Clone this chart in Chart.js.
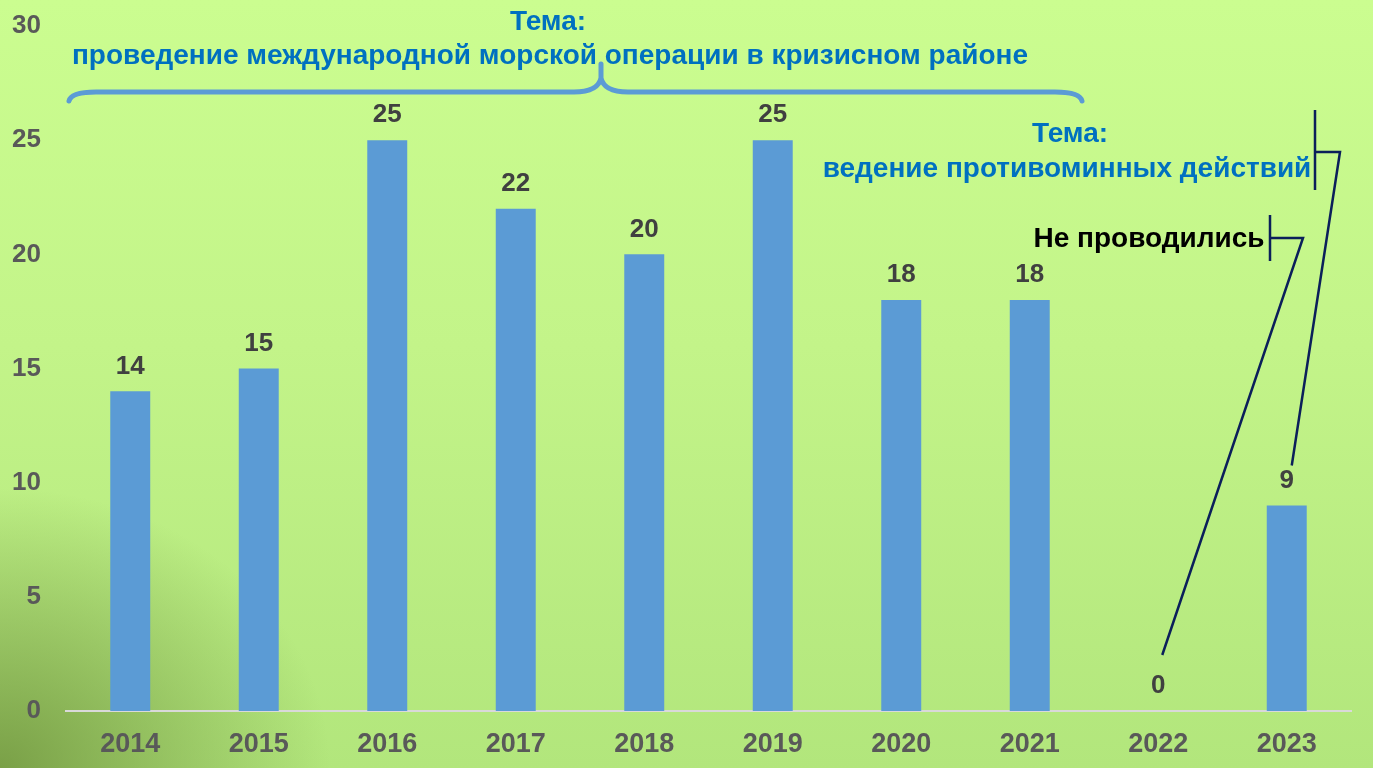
<!DOCTYPE html>
<html lang="ru">
<head>
  <meta charset="UTF-8">
  <title>Учения по годам</title>
  <style>
    html, body {
      margin: 0;
      padding: 0;
      width: 1373px;
      height: 768px;
      overflow: hidden;
    }
    body {
      background:
        radial-gradient(ellipse 330px 280px at 0% 100%, rgba(112, 148, 62, 0.85) 0%, rgba(112, 148, 62, 0) 100%),
        linear-gradient(to bottom, #cbfd90 0%, #c3f489 45%, #b2e67c 100%);
    }
    canvas {
      display: block;
    }
  </style>
</head>
<body>
  <canvas id="chart" width="1373" height="768"></canvas>
  <script src="https://cdn.jsdelivr.net/npm/chart.js"></script>
  <script>
    // Data
    const years = ["2014", "2015", "2016", "2017", "2018", "2019", "2020", "2021", "2022", "2023"];
    const counts = [14, 15, 25, 22, 20, 25, 18, 18, 0, 9];
    const yTicks = [0, 5, 10, 15, 20, 25, 30];

    const FONT = "'Liberation Sans', Arial, sans-serif";
    const BLUE = "#0070c0";
    const NAVY = "#0b1f5a";

    // Value labels above bars
    const valueLabels = {
      id: "valueLabels",
      afterDatasetsDraw(chart) {
        const ctx = chart.ctx;
        const meta = chart.getDatasetMeta(0);
        ctx.save();
        ctx.font = "bold 26px " + FONT;
        ctx.fillStyle = "#404040";
        ctx.textAlign = "center";
        ctx.textBaseline = "middle";
        meta.data.forEach((bar, i) => {
          ctx.fillText(String(counts[i]), bar.x, bar.y - 25);
        });
        ctx.restore();
      }
    };

    // Braces, captions and leader lines
    const notes = {
      id: "notes",
      afterDraw(chart) {
        const ctx = chart.ctx;
        const x = chart.scales.x;
        const y = chart.scales.y;
        ctx.save();

        // top brace
        ctx.strokeStyle = "#5b9bd5";
        ctx.lineWidth = 5;
        ctx.lineCap = "round";
        ctx.beginPath();
        ctx.moveTo(69, 101);
        ctx.quadraticCurveTo(71, 92, 96, 92);
        ctx.lineTo(574, 92);
        ctx.quadraticCurveTo(598, 92, 601, 78);
        ctx.lineTo(601, 64);
        ctx.moveTo(601, 78);
        ctx.quadraticCurveTo(604, 92, 628, 92);
        ctx.lineTo(1055, 92);
        ctx.quadraticCurveTo(1080, 92, 1082, 101);
        ctx.stroke();

        ctx.textAlign = "center";
        ctx.textBaseline = "middle";
        ctx.font = "bold 28px " + FONT;
        ctx.fillStyle = BLUE;
        ctx.fillText("Тема:", 548, 22);
        ctx.fillText("проведение международной морской операции в кризисном районе", 550, 56);
        ctx.fillText("Тема:", 1070, 134);
        ctx.fillText("ведение противоминных действий", 1067, 169);

        ctx.fillStyle = "#000000";
        ctx.fillText("Не проводились", 1149, 239);

        // leader lines to the 2023 and 2022 labels
        ctx.strokeStyle = NAVY;
        ctx.lineWidth = 2.5;
        ctx.lineCap = "butt";
        ctx.beginPath();
        ctx.moveTo(1315, 110);
        ctx.lineTo(1315, 190);
        ctx.moveTo(1315, 152);
        ctx.lineTo(1340, 152);
        ctx.lineTo(x.getPixelForValue(9) + 5, y.getPixelForValue(counts[9]) - 40);
        ctx.moveTo(1270, 215);
        ctx.lineTo(1270, 261);
        ctx.moveTo(1270, 238);
        ctx.lineTo(1303, 238);
        ctx.lineTo(x.getPixelForValue(8) + 4, y.getPixelForValue(counts[8]) - 56);
        ctx.stroke();

        ctx.restore();
      }
    };

    new Chart(document.getElementById("chart"), {
      type: "bar",
      data: {
        labels: years,
        datasets: [{
          data: counts,
          backgroundColor: "#5b9bd5",
          borderWidth: 0,
          categoryPercentage: 1,
          barPercentage: 0.311
        }]
      },
      options: {
        responsive: false,
        animation: false,
        layout: { padding: { top: 26, right: 22, bottom: 0, left: 0 } },
        plugins: {
          legend: { display: false },
          tooltip: { enabled: false }
        },
        scales: {
          x: {
            grid: { display: false, drawTicks: false },
            border: { color: "#d9d9d9", width: 2 },
            ticks: {
              color: "#595959",
              font: { family: FONT, size: 27, weight: "bold" },
              padding: 17
            },
            afterFit(s) { s.height = 57; }
          },
          y: {
            min: 0,
            max: 30,
            grid: { display: false, drawTicks: false },
            border: { display: false },
            afterBuildTicks(s) { s.ticks = yTicks.map(v => ({ value: v })); },
            ticks: {
              color: "#595959",
              font: { family: FONT, size: 26, weight: "bold" },
              padding: 25
            },
            afterFit(s) {
              s.width = 66;
              s.paddingTop = 0;
              s.paddingBottom = 0;
            }
          }
        }
      },
      plugins: [valueLabels, notes]
    });
  </script>
</body>
</html>
